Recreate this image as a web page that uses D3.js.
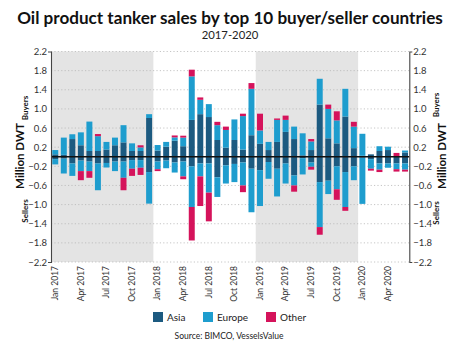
<!DOCTYPE html>
<html>
<head>
<meta charset="utf-8">
<script src="https://cdn.jsdelivr.net/npm/d3@7"></script>
<style>
  html, body { margin: 0; padding: 0; background: #fff; }
  svg { display: block; font-family: Lato, "Open Sans", sans-serif; }
</style>
</head>
<body>
<svg id="chart" width="450" height="344"></svg>
<script>
// Monthly categories, Jan 2017 – Jun 2020
const months = [
  "Jan 2017","Feb 2017","Mar 2017","Apr 2017","May 2017","Jun 2017","Jul 2017","Aug 2017","Sep 2017","Oct 2017","Nov 2017","Dec 2017",
  "Jan 2018","Feb 2018","Mar 2018","Apr 2018","May 2018","Jun 2018","Jul 2018","Aug 2018","Sep 2018","Oct 2018","Nov 2018","Dec 2018",
  "Jan 2019","Feb 2019","Mar 2019","Apr 2019","May 2019","Jun 2019","Jul 2019","Aug 2019","Sep 2019","Oct 2019","Nov 2019","Dec 2019",
  "Jan 2020","Feb 2020","Mar 2020","Apr 2020","May 2020","Jun 2020"
];
const monthTicks = ["Jan 2017","Apr 2017","Jul 2017","Oct 2017","Jan 2018","Apr 2018","Jul 2018","Oct 2018",
  "Jan 2019","Apr 2019","Jul 2019","Oct 2019","Jan 2020","Apr 2020"];
const shadedYears = [["Jan 2017","Dec 2017"],["Jan 2019","Dec 2019"]];
const yTicks = [2.2,1.8,1.4,1.0,0.6,0.2,-0.2,-0.6,-1.0,-1.4,-1.8,-2.2];

// Buyers (million DWT)
const asiaBuy   = [0.05,0.04,0.37,0.24,0.12,0.12,0.15,0.24,0.30,0.12,0.12,0.81, 0.13,0.21,0.335,0.22,0.77,0.89,0.83,0.35,0.19,0.35,0.15,0.45, 0.27,0.14,0.31,0.52,0.37,0.03,0.14,1.09,0.385,0.28,0.84,0.18, 0.02,0.05,0.12,0.14,0,0.09];
const europeBuy = [0.09,0.36,0.10,0.27,0.615,0.31,0.16,0.16,0.36,0.16,0.075,0.08, 0.115,0.10,0.07,0.18,0.91,0.30,0.27,0.31,0.37,0.43,0.70,0.97, 0.28,0.17,0.46,0.25,0.26,0.46,0.18,0.54,0.615,0.48,0.58,0.45, 0.46,0,0.10,0.07,0,0.04];
const otherBuy  = [0,0,0,0,0,0.045,0,0,0,0,0.045,0, 0,0,0.04,0.04,0.14,0.05,0,0.07,0.07,0,0.05,0.12, 0.35,0,0.03,0.09,0,0,0.05,0,0.09,0.19,0,0.10, 0,0,0,0,0.08,0];
// Sellers (million DWT, negative)
const asiaSell   = [-0.05,-0.04,-0.14,-0.08,-0.10,-0.14,-0.13,-0.10,-0.10,-0.07,-0.07,-0.32, -0.10,-0.08,-0.12,-0.10,-0.20,-0.14,-0.14,-0.43,-0.18,-0.15,-0.12,-0.25, -0.28,-0.11,-0.25,-0.14,-0.39,-0.03,-0.12,-0.53,-0.50,-0.20,-0.32,-0.20, -0.02,-0.05,-0.14,-0.14,-0.14,-0.14];
const europeSell = [-0.11,-0.31,-0.26,-0.22,-0.20,-0.56,-0.095,-0.20,-0.34,-0.18,-0.16,-0.66, -0.16,-0.16,-0.21,-0.31,-0.85,-0.27,-0.61,-0.41,-0.38,-0.38,-0.48,-0.91, -0.75,-0.35,-0.58,-0.42,-0.21,-0.34,-0.09,-0.94,-0.28,-0.48,-0.73,-0.29, -0.965,-0.20,-0.13,-0.09,-0.12,-0.13];
const otherSell  = [0,0,0,-0.19,-0.14,0,0,0,-0.26,-0.15,-0.15,0, -0.04,0,0,-0.06,-0.70,-0.62,-0.60,0,0,0,-0.14,0, 0,0,0,0,-0.13,0,-0.06,-0.16,0,-0.22,-0.08,0, 0,-0.04,-0.05,0,-0.05,-0.04];

const regions = ["Asia","Europe","Other"];
const colors = { Asia: "#1c5a80", Europe: "#1e9dce", Other: "#d5135b" };

const buyRows = months.map((m, i) => ({
  month: m, Asia: asiaBuy[i], Europe: europeBuy[i], Other: otherBuy[i]
}));
const sellRows = months.map((m, i) => ({
  month: m, Asia: asiaSell[i], Europe: europeSell[i], Other: otherSell[i]
}));

const svg = d3.select("#chart");
const plotLeft = 51, plotRight = 409.3, plotTop = 51.5, plotBottom = 262;

const x = d3.scaleBand().domain(months).range([plotLeft, plotRight]).paddingInner(0.3).paddingOuter(0.15);
const y = d3.scaleLinear().domain([-2.2, 2.2]).range([plotBottom, plotTop]);
const edge = m => x(m) - (x.step() - x.bandwidth()) / 2;

// Title
const title = svg.append("text")
  .attr("x", 230).attr("y", 24).attr("text-anchor", "middle")
  .attr("font-weight", 700).attr("font-size", 17).attr("fill", "#111")
  .text("Oil product tanker sales by top 10 buyer/seller countries");
const tw = title.node().getComputedTextLength();
title.attr("font-size", 17 * 426 / tw);

svg.append("text")
  .attr("x", 230).attr("y", 38.5).attr("text-anchor", "middle")
  .attr("font-size", 11.3).attr("fill", "#222")
  .text("2017-2020");

// Shaded years
svg.append("g").selectAll("rect").data(shadedYears).join("rect")
  .attr("x", d => edge(d[0]))
  .attr("width", d => edge(d[1]) + x.step() - edge(d[0]))
  .attr("y", plotTop).attr("height", plotBottom - plotTop)
  .attr("fill", "#e4e4e4");

// Dotted gridlines
svg.append("g").selectAll("line").data(yTicks).join("line")
  .attr("x1", plotLeft).attr("x2", plotRight)
  .attr("y1", d => y(d)).attr("y2", d => y(d))
  .attr("stroke", "#b8b8b8").attr("stroke-width", 0.8)
  .attr("stroke-dasharray", "1.2,2.2");

// Stacked bars: buyers above zero, sellers below
const stack = d3.stack().keys(regions).offset(d3.stackOffsetDiverging);
const layers = [...stack(buyRows), ...stack(sellRows)];
svg.append("g").selectAll("g").data(layers).join("g")
  .attr("fill", d => colors[d.key])
  .selectAll("rect").data(d => d).join("rect")
  .attr("x", d => x(d.data.month))
  .attr("width", x.bandwidth())
  .attr("y", d => y(Math.max(d[0], d[1])))
  .attr("height", d => Math.abs(y(d[0]) - y(d[1])));

// Zero line
svg.append("line")
  .attr("x1", plotLeft).attr("x2", plotRight)
  .attr("y1", y(0)).attr("y2", y(0))
  .attr("stroke", "#111").attr("stroke-width", 1.5);

// Axes
function styleAxis(g) {
  g.select(".domain").attr("stroke", "#444").attr("stroke-width", 1.1);
  g.selectAll("text").attr("font-size", 9.5).attr("fill", "#333").attr("font-family", "Lato, sans-serif");
}
const fmt = d3.format(".1f");
svg.append("g").attr("transform", `translate(${plotLeft},0)`)
  .call(d3.axisLeft(y).tickValues(yTicks).tickFormat(fmt).tickSizeInner(0).tickSizeOuter(3).tickPadding(4))
  .call(styleAxis);
svg.append("g").attr("transform", `translate(${plotRight},0)`)
  .call(d3.axisRight(y).tickValues(yTicks).tickFormat(fmt).tickSizeInner(0).tickSizeOuter(3).tickPadding(4))
  .call(styleAxis);

const xAxis = svg.append("g").attr("transform", `translate(0,${plotBottom})`)
  .call(d3.axisBottom(x).tickValues(monthTicks).tickSize(0));
xAxis.select(".domain").remove();
xAxis.selectAll("text")
  .attr("transform", "rotate(-90)")
  .attr("x", -4).attr("y", 0).attr("dy", "0.32em")
  .attr("text-anchor", "end")
  .attr("font-size", 8.5).attr("fill", "#333").attr("font-family", "Lato, sans-serif");

// Axis titles
function vText(xp, yp, txt, size, weight) {
  svg.append("text")
    .attr("transform", `translate(${xp},${yp}) rotate(-90)`)
    .attr("text-anchor", "middle")
    .attr("font-size", size).attr("font-weight", weight).attr("fill", "#111")
    .text(txt);
}
vText(24, 156, "Million DWT", 11.5, 700);
vText(445.5, 156, "Million DWT", 11.5, 700);
vText(27.5, 108, "Buyers", 8, 700);
vText(27.5, 211, "Sellers", 8, 700);
vText(438.5, 105, "Buyers", 8, 700);
vText(438.5, 213, "Sellers", 8, 700);

// Legend
const legendPos = [153, 203, 266];
const legend = svg.append("g").selectAll("g").data(regions).join("g")
  .attr("transform", (d, i) => `translate(${legendPos[i]},312)`);
legend.append("rect").attr("width", 10).attr("height", 10).attr("fill", d => colors[d]);
legend.append("text").attr("x", 14).attr("y", 9.2)
  .attr("font-size", 10).attr("fill", "#222").text(d => d);

// Source
svg.append("text")
  .attr("x", 229).attr("y", 339).attr("text-anchor", "middle")
  .attr("font-size", 8.5).attr("fill", "#222")
  .text("Source: BIMCO, VesselsValue");
</script>
</body>
</html>
